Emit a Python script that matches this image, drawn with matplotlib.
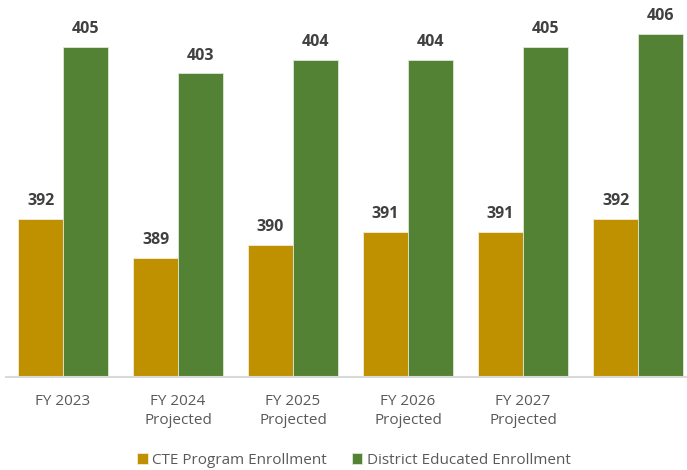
import matplotlib.pyplot as plt
import numpy as np

plt.rcParams['font.family'] = ['Open Sans', 'DejaVu Sans']

categories = ["FY 2023", "FY 2024\nProjected", "FY 2025\nProjected",
              "FY 2026\nProjected", "FY 2027\nProjected", ""]
cte = [392, 389, 390, 391, 391, 392]
district = [405, 403, 404, 404, 405, 406]

gold = '#BF9000'
green = '#548235'

fig = plt.figure(figsize=(6.87, 4.70), dpi=100)
ax = fig.add_axes([5.5 / 687, 93 / 470, 690 / 687, 367 / 470])

x = np.arange(len(categories))
w = 0.39
b1 = ax.bar(x - w / 2, cte, w, color=gold, edgecolor='#f2ecd9', linewidth=0.6,
            label='CTE Program Enrollment')
b2 = ax.bar(x + w / 2, district, w, color=green, edgecolor='#dfe8d8', linewidth=0.6,
            label='District Educated Enrollment')

# value labels above each bar
for bars in (b1, b2):
    for r in bars:
        ax.annotate(f"{r.get_height():.0f}",
                    (r.get_x() + r.get_width() / 2, r.get_height()),
                    xytext=(0, 7), textcoords='offset points',
                    ha='center', va='bottom', fontsize=11.5,
                    fontweight='bold', color='#404040')

ax.set_ylim(380, 407.8)
ax.set_xlim(-0.5, len(categories) - 0.5)
ax.set_xticks(x)
ax.set_xticklabels(categories, fontsize=11, color='#595959', linespacing=1.4)
ax.tick_params(axis='x', length=0, pad=12)
ax.set_yticks([])

for s in ['top', 'right', 'left']:
    ax.spines[s].set_visible(False)
ax.spines['bottom'].set_color('#D9D9D9')
ax.spines['bottom'].set_linewidth(1.5)

fig.legend(loc='center', bbox_to_anchor=(354 / 687, 10 / 470), ncol=2,
           frameon=False, fontsize=11, handlelength=0.7, handleheight=0.7,
           handletextpad=0.3, columnspacing=1.6, labelcolor='#595959')

fig.savefig('out.png', dpi=100)
